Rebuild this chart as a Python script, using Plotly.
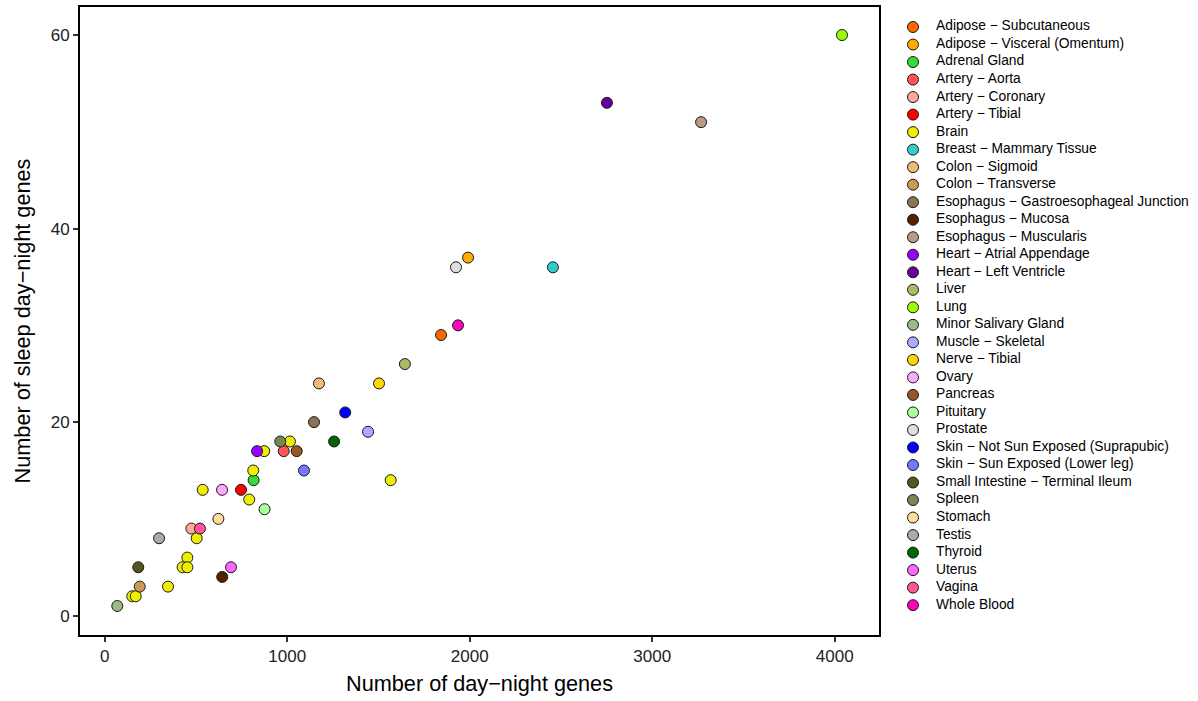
import plotly.graph_objects as go

# Tissue categories (legend order) and their fill colours
tissue_names = [
    "Adipose − Subcutaneous", "Adipose − Visceral (Omentum)", "Adrenal Gland",
    "Artery − Aorta", "Artery − Coronary", "Artery − Tibial", "Brain",
    "Breast − Mammary Tissue", "Colon − Sigmoid", "Colon − Transverse",
    "Esophagus − Gastroesophageal Junction", "Esophagus − Mucosa",
    "Esophagus − Muscularis", "Heart − Atrial Appendage", "Heart − Left Ventricle",
    "Liver", "Lung", "Minor Salivary Gland", "Muscle − Skeletal", "Nerve − Tibial",
    "Ovary", "Pancreas", "Pituitary", "Prostate",
    "Skin − Not Sun Exposed (Suprapubic)", "Skin − Sun Exposed (Lower leg)",
    "Small Intestine − Terminal Ileum", "Spleen", "Stomach", "Testis", "Thyroid",
    "Uterus", "Vagina", "Whole Blood",
]
tissue_colors = [
    "#FF6600", "#FFAA00", "#33DD33", "#FF5555", "#FFAA99", "#FF0000", "#EEEE00",
    "#33CCCC", "#EEBB77", "#CC9955", "#8B7355", "#552200", "#BB9988", "#9900FF",
    "#660099", "#AABB66", "#99FF00", "#99BB88", "#AAAAFF", "#FFD700", "#FFAAFF",
    "#995522", "#AAFF99", "#DDDDDD", "#0000FF", "#7777FF", "#555522", "#778855",
    "#FFDD99", "#AAAAAA", "#006600", "#FF66FF", "#FF5599", "#FF00BB",
]

# One row per sample group: tissue, day-night genes, sleep day-night genes
point_tissue = [
    "Adipose − Subcutaneous", "Adipose − Visceral (Omentum)", "Adrenal Gland",
    "Artery − Aorta", "Artery − Coronary", "Artery − Tibial",
    "Brain", "Brain", "Brain", "Brain", "Brain", "Brain", "Brain",
    "Brain", "Brain", "Brain", "Brain", "Brain", "Brain",
    "Breast − Mammary Tissue", "Colon − Sigmoid", "Colon − Transverse",
    "Esophagus − Gastroesophageal Junction", "Esophagus − Mucosa",
    "Esophagus − Muscularis", "Heart − Atrial Appendage", "Heart − Left Ventricle",
    "Liver", "Lung", "Minor Salivary Gland", "Muscle − Skeletal", "Nerve − Tibial",
    "Ovary", "Pancreas", "Pituitary", "Prostate",
    "Skin − Not Sun Exposed (Suprapubic)", "Skin − Sun Exposed (Lower leg)",
    "Small Intestine − Terminal Ileum", "Spleen", "Stomach", "Testis", "Thyroid",
    "Uterus", "Vagina", "Whole Blood",
]
day_night_genes = [
    1843, 1991, 816,
    981, 475, 747,
    1015, 874, 1567, 814, 537, 792, 504,
    453, 427, 453, 347, 151, 170,
    2456, 1174, 192,
    1147, 644,
    3268, 835, 2752,
    1645, 4040, 69, 1443, 1503,
    643, 1052, 876, 1925,
    1318, 1092,
    184, 962, 623, 298, 1257,
    692, 522, 1936,
]
sleep_genes = [
    29, 37, 14,
    17, 9, 13,
    18, 17, 14, 15, 13, 12, 8,
    6, 5, 5, 3, 2, 2,
    36, 24, 3,
    20, 4,
    51, 17, 53,
    26, 60, 1, 19, 24,
    13, 17, 11, 36,
    21, 15,
    5, 18, 10, 8, 18,
    5, 9, 30,
]

color_of = dict(zip(tissue_names, tissue_colors))
font_family = "Liberation Sans, Arial, sans-serif"

fig = go.Figure()

# Scatter of all tissues
fig.add_trace(go.Scatter(
    x=day_night_genes, y=sleep_genes, mode="markers",
    marker=dict(size=11, color=[color_of[t] for t in point_tissue],
                line=dict(color="#1a1a1a", width=1)),
    text=point_tissue, hoverinfo="text+x+y", showlegend=False,
))

# Legend column drawn on its own pixel-scaled axes
leg_top, leg_step = 27, 17.52
leg_y = [leg_top + i * leg_step for i in range(len(tissue_names))]
fig.add_trace(go.Scatter(
    x=[913] * len(tissue_names), y=leg_y, mode="markers",
    marker=dict(size=11, color=tissue_colors, line=dict(color="#1a1a1a", width=1)),
    xaxis="x2", yaxis="y2", hoverinfo="skip", showlegend=False,
))
fig.add_trace(go.Scatter(
    x=[936] * len(tissue_names), y=leg_y, mode="text", text=tissue_names,
    textposition="middle right",
    textfont=dict(family=font_family, size=13.8, color="black"),
    xaxis="x2", yaxis="y2", hoverinfo="skip", showlegend=False,
))

axis_common = dict(
    showgrid=False, zeroline=False, showline=True, linecolor="black", linewidth=2,
    mirror=True, ticks="outside", ticklen=5, tickwidth=1.5, tickcolor="#333333",
    tickfont=dict(family=font_family, size=17, color="#222222"),
)

fig.update_layout(
    width=1198, height=701,
    margin=dict(l=80, r=5, t=7, b=66),
    paper_bgcolor="white", plot_bgcolor="white",
    font=dict(family=font_family, color="black"),
    xaxis=dict(
        domain=[0, 799 / 1113], range=[-135.3, 4242.7],
        tickvals=[0, 1000, 2000, 3000, 4000],
        title=dict(text="Number of day−night genes",
                   font=dict(family=font_family, size=21.7, color="black"), standoff=10),
        **axis_common,
    ),
    yaxis=dict(
        range=[-2.0, 62.9], tickvals=[0, 20, 40, 60],
        title=dict(text="Number of sleep day−night genes",
                   font=dict(family=font_family, size=21.7, color="black"), standoff=14),
        **axis_common,
    ),
    xaxis2=dict(domain=[805 / 1113, 1.0], range=[885, 1193], visible=False,
                anchor="y2", fixedrange=True),
    yaxis2=dict(domain=[0, 1], range=[635, 7], visible=False, anchor="x2",
                fixedrange=True),
)

fig.write_html("out.html")
